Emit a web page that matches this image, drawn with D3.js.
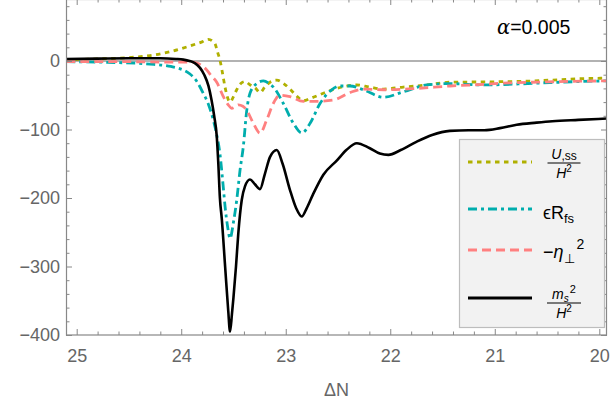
<!DOCTYPE html>
<html><head><meta charset="utf-8">
<script src="https://cdn.jsdelivr.net/npm/d3@7"></script>
<style>body{margin:0;background:#fff}svg{display:block}text{font-family:"Liberation Sans",Arial,sans-serif}</style>
</head><body><svg id="c" width="610" height="406"></svg>
<script>
// ---- data ----
const xTickValues = [25, 24, 23, 22, 21, 20];
const yTickValues = [0, -100, -200, -300, -400];
const annotation = "=0.005";

const ussN = [25.1, 24.8, 24.5, 24.3, 24.107, 23.916, 23.8, 23.741, 23.7, 23.676, 23.65, 23.629, 23.6, 23.581, 23.533, 23.5, 23.469, 23.43, 23.39, 23.34, 23.294, 23.246, 23.2, 23.15, 23.086, 23.02, 22.959, 22.89, 22.832, 22.77, 22.672, 22.512, 22.321, 22.2, 22.066, 21.875, 21.651, 21.43, 21.1, 20.7, 20.47, 20.2, 19.92];
const ussV = [2, 3, 5, 8, 13.5, 22, 28, 31.7, 29, 25, 12, 1, -22, -38, -60, -52, -42, -33, -30, -35, -39, -46, -38, -31, -28, -33, -41, -52, -58, -55, -49, -40, -35, -38, -41, -38, -35, -31, -30.5, -29.5, -28, -26, -25];

const rfsN = [25.1, 24.7, 24.3, 24.1, 23.916, 23.85, 23.79, 23.74, 23.693, 23.66, 23.63, 23.6, 23.58, 23.555, 23.533, 23.5, 23.469, 23.437, 23.406, 23.373, 23.342, 23.278, 23.214, 23.15, 23.119, 23.023, 22.927, 22.847, 22.767, 22.672, 22.56, 22.48, 22.385, 22.257, 22.066, 21.875, 21.651, 21.43, 21.1, 20.633, 20.2, 19.92];
const rfsV = [-1, -2, -4.5, -8, -19, -30, -47, -63, -86, -108, -135, -180, -213, -243, -259, -235, -203, -159, -125, -72, -47, -33, -29, -34, -38, -62, -91, -105, -91, -62, -42, -36.5, -36.5, -42, -53, -45, -35, -33, -35, -32.6, -30, -29];

const etaN = [25.1, 24.5, 24.2, 23.916, 23.852, 23.8, 23.756, 23.71, 23.66, 23.597, 23.55, 23.517, 23.485, 23.454, 23.41, 23.373, 23.31, 23.246, 23.182, 23.119, 23.055, 22.959, 22.832, 22.703, 22.544, 22.385, 22.257, 22.066, 21.746, 21.428, 21.1, 20.95, 20.5, 19.92];
const etaV = [-1, -1, -1.5, -1.5, -3, -7, -13, -22, -31, -52, -64, -69, -67, -64, -66, -72, -91, -105.5, -86, -62, -50, -52, -59, -59, -57, -46, -41, -42, -40, -36.5, -34, -32.6, -30.5, -29];

const msN = [25.1, 24.8, 24.5, 24.2, 24.05, 23.98, 23.92, 23.87, 23.82, 23.78, 23.74, 23.71, 23.685, 23.66, 23.645, 23.63, 23.612, 23.58, 23.55, 23.533, 23.515, 23.5, 23.476, 23.454, 23.421, 23.39, 23.342, 23.295, 23.246, 23.2, 23.15, 23.086, 23.03, 22.96, 22.9, 22.847, 22.8, 22.74, 22.64, 22.51, 22.42, 22.32, 22.2, 22.1, 22.018, 21.9, 21.75, 21.6, 21.43, 21.25, 21.1, 20.95, 20.79, 20.6, 20.45, 20.2, 19.92];
const msV = [3, 3.5, 4, 4, 3, 2, 0, -3, -10, -20, -36, -57, -80, -110, -150, -200, -230, -300, -365, -395, -370, -345, -300, -252, -203, -183, -173, -180, -187, -165, -140, -130, -150, -188, -215, -227, -215, -195, -166, -145, -130, -120, -127, -135, -137, -130, -118, -108, -102, -101, -101, -98, -93, -90, -88, -86, -84];

const seriesList = [
  {key: "uss", xs: ussN, ys: ussV, color: "#b0b000", dash: "4.5,4.5"},
  {key: "rfs", xs: rfsN, ys: rfsV, color: "#00adad", dash: "9,4,3,4"},
  {key: "eta", xs: etaN, ys: etaV, color: "#ff8080", dash: "9,5"},
  {key: "ms",  xs: msN,  ys: msV,  color: "#000000", dash: null}
];

// ---- layout ----
const svg = d3.select("#c");
const box = {left: 66, right: 607, top: -1, bottom: 335};
const x = d3.scaleLinear().domain([25, 20]).range([76.7, 599.3]);
const y = d3.scaleLinear().domain([0, -400]).range([61, 335]);
const axisColor = "#888", labelColor = "#666";

svg.append("defs").append("clipPath").attr("id", "clip")
  .append("rect").attr("x", box.left).attr("y", box.top)
  .attr("width", box.right - box.left).attr("height", box.bottom - box.top);

// zero line
svg.append("line").attr("x1", box.left).attr("x2", box.right)
  .attr("y1", y(0)).attr("y2", y(0)).attr("stroke", "#999").attr("stroke-width", 1.6);

// curves
const line = d3.line().x(d => x(d[0])).y(d => y(d[1])).curve(d3.curveMonotoneX);
const gCurves = svg.append("g").attr("clip-path", "url(#clip)");
seriesList.forEach(s => {
  const pts = s.xs.map((v, i) => [v, s.ys[i]]);
  gCurves.append("path").attr("d", line(pts)).attr("fill", "none")
    .attr("stroke", s.color).attr("stroke-width", s.key === "ms" ? 2.6 : 2.8)
    .attr("stroke-dasharray", s.dash).attr("stroke-linejoin", "round");
});

// frame
svg.append("rect").attr("x", box.left + 0.5).attr("y", box.top + 0.5)
  .attr("width", box.right - box.left - 1).attr("height", box.bottom - box.top - 0.5)
  .attr("fill", "none").attr("stroke", axisColor).attr("stroke-width", 1.2);

// ticks
const xMinor = d3.range(0, 26).map(i => 25 - i * 0.2).filter(v => !xTickValues.some(t => Math.abs(t - v) < 1e-6));
const yMinor = d3.range(-400, 90, 20).filter(v => v % 100 !== 0);
function styleAxis(g) { g.select(".domain").remove(); g.selectAll("line").attr("stroke", axisColor).attr("stroke-width", 1); }

// bottom
svg.append("g").attr("transform", `translate(0,${box.bottom})`)
  .call(d3.axisBottom(x).tickValues(xTickValues).tickSize(-6).tickPadding(12).tickFormat(d3.format("d")))
  .call(styleAxis)
  .call(g => g.selectAll("text").attr("fill", labelColor).attr("font-size", 18).attr("dy", "0.85em")
    .attr("font-family", '"Liberation Sans", Arial, sans-serif'));
svg.append("g").attr("transform", `translate(0,${box.bottom})`)
  .call(d3.axisBottom(x).tickValues(xMinor).tickSize(-3.5).tickFormat("")).call(styleAxis);
// top
svg.append("g").attr("transform", `translate(0,${box.top})`)
  .call(d3.axisTop(x).tickValues(xTickValues).tickSize(-6).tickFormat("")).call(styleAxis);
svg.append("g").attr("transform", `translate(0,${box.top})`)
  .call(d3.axisTop(x).tickValues(xMinor).tickSize(-3.5).tickFormat("")).call(styleAxis);
// left
svg.append("g").attr("transform", `translate(${box.left},0)`)
  .call(d3.axisLeft(y).tickValues(yTickValues).tickSize(-6).tickPadding(6)
    .tickFormat(d => d < 0 ? "\u2212" + Math.abs(d) : String(d)))
  .call(styleAxis)
  .call(g => g.selectAll("text").attr("fill", labelColor).attr("font-size", 18)
    .attr("font-family", '"Liberation Sans", Arial, sans-serif'));
svg.append("g").attr("transform", `translate(${box.left},0)`)
  .call(d3.axisLeft(y).tickValues(yMinor).tickSize(-3.5).tickFormat("")).call(styleAxis);
// right
svg.append("g").attr("transform", `translate(${box.right},0)`)
  .call(d3.axisRight(y).tickValues(yTickValues).tickSize(-6).tickFormat("")).call(styleAxis);
svg.append("g").attr("transform", `translate(${box.right},0)`)
  .call(d3.axisRight(y).tickValues(yMinor).tickSize(-3.5).tickFormat("")).call(styleAxis);

// x label
svg.append("text").attr("x", (box.left + box.right) / 2).attr("y", 396)
  .attr("text-anchor", "middle").attr("fill", labelColor).attr("font-size", 18).text("\u0394N");

// annotation
const ann = svg.append("text").attr("x", 497).attr("y", 34).attr("font-size", 19.5).attr("fill", "#000");
ann.append("tspan").attr("font-style", "italic").attr("font-family", '"DejaVu Serif", serif').text("\u03b1");
ann.append("tspan").text(annotation);

// legend
const lg = svg.append("g");
lg.append("rect").attr("x", 459.5).attr("y", 139.5).attr("width", 145).attr("height", 188)
  .attr("fill", "#f2f2f2").attr("stroke", "#bdbdbd").attr("stroke-width", 1.2);
const legendY = [162, 209, 250, 298];
seriesList.forEach((s, i) => {
  lg.append("line").attr("x1", 468).attr("x2", 532).attr("y1", legendY[i]).attr("y2", legendY[i])
    .attr("stroke", s.color).attr("stroke-width", 2.8).attr("stroke-dasharray", s.dash);
});
function frac(cx, barY, numBuild, denBuild, w) {
  const n = lg.append("text").attr("x", cx).attr("y", barY - 4).attr("text-anchor", "middle").attr("font-size", 14);
  numBuild(n);
  lg.append("line").attr("x1", cx - w / 2).attr("x2", cx + w / 2).attr("y1", barY).attr("y2", barY)
    .attr("stroke", "#000").attr("stroke-width", 1);
  const d = lg.append("text").attr("x", cx).attr("y", barY + 15).attr("text-anchor", "middle").attr("font-size", 14);
  denBuild(d);
}
const hsq = t => { t.append("tspan").attr("font-style", "italic").text("H"); t.append("tspan").attr("font-size", 10).attr("dy", -6).text("2"); };
frac(564, 163, t => {
  t.append("tspan").attr("font-style", "italic").text("U");
  t.append("tspan").attr("font-size", 12).attr("dy", 1).text(",ss");
}, hsq, 33);
{
  const t = lg.append("text").attr("x", 543).attr("y", 219).attr("font-size", 18);
  t.append("tspan").text("\u03f5R");
  t.append("tspan").attr("font-size", 13).attr("dy", 4).text("fs");
}
{
  const t = lg.append("text").attr("x", 543).attr("y", 258).attr("font-size", 18);
  t.append("tspan").text("\u2212");
  t.append("tspan").attr("font-style", "italic").text("\u03b7");
  t.append("tspan").attr("font-size", 13).attr("dy", 5).text("\u22a5");
  t.append("tspan").attr("font-size", 14).attr("dy", -14).attr("dx", 2).text("2");
}
frac(564, 303, t => {
  t.append("tspan").attr("font-style", "italic").text("m");
  t.append("tspan").attr("font-style", "italic").attr("font-size", 10).attr("dy", 3).text("s");
  t.append("tspan").attr("font-size", 11).attr("dy", -9).attr("dx", 1).text("2");
}, hsq, 34);
</script></body></html>
